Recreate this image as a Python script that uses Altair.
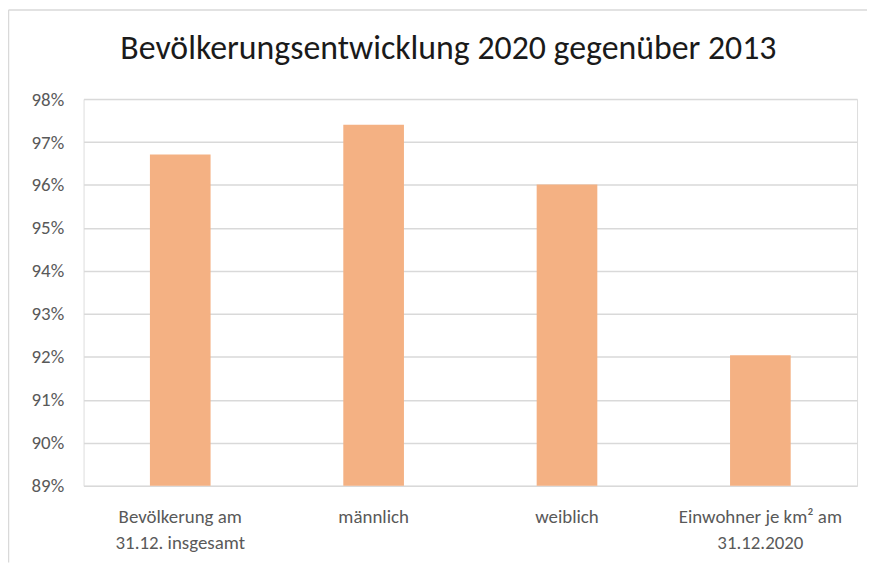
import altair as alt
import pandas as pd

TITLE = "Bevölkerungsentwicklung  2020 gegenüber 2013"
categories = [
    "Bevölkerung am\n31.12. insgesamt",
    "männlich",
    "weiblich",
    "Einwohner je km² am\n31.12.2020",
]
values = [0.9671, 0.9740, 0.9601, 0.9204]
y_ticks = [0.89, 0.90, 0.91, 0.92, 0.93, 0.94, 0.95, 0.96, 0.97, 0.98]
Y_MIN, Y_MAX = 0.89, 0.98

FONT = "Carlito, Liberation Sans, Arial, sans-serif"
BAR_COLOR = "#F4B183"
GRID = "#D9D9D9"
LABEL = "#595959"

W, H = 778, 389
PAD = {"left": 76, "top": 90, "right": 10, "bottom": 77}

df = pd.DataFrame({"cat": categories, "val": values})

bars = alt.Chart(df).mark_bar(size=61, color=BAR_COLOR).encode(
    x=alt.X(
        "cat:N",
        sort=categories,
        title=None,
        axis=alt.Axis(
            labelAngle=0,
            labelExpr="split(datum.label, '\\n')",
            labelLineHeight=26,
            labelFontSize=19,
            labelFont=FONT,
            labelColor=LABEL,
            labelPadding=22,
            ticks=False,
            domain=False,
            grid=False,
            labelLimit=300,
        ),
    ),
    y=alt.Y(
        "val:Q",
        title=None,
        scale=alt.Scale(domain=[Y_MIN, Y_MAX], zero=False, nice=False),
        axis=alt.Axis(
            values=y_ticks,
            format=".0%",
            labelFontSize=19,
            labelFont=FONT,
            labelColor=LABEL,
            labelPadding=20,
            ticks=False,
            domain=False,
            grid=True,
            gridColor=GRID,
            gridWidth=1.5,
        ),
    ),
    y2=alt.datum(Y_MIN),
)

one = alt.Data(values=[{"k": 1}])
top_border = alt.Chart(one).mark_rule(color=GRID, strokeWidth=1.5).encode(
    x=alt.value(-75.5), x2=alt.value(W + PAD["right"]), y=alt.value(-89.5)
)
left_border = alt.Chart(one).mark_rule(color=GRID, strokeWidth=1.5).encode(
    x=alt.value(-75.5), y=alt.value(-89.5), y2=alt.value(H + PAD["bottom"])
)

chart = (
    alt.layer(top_border, left_border, bars)
    .properties(
        width=W,
        height=H,
        padding=PAD,
        autosize=alt.AutoSizeParams(type="none"),
        title=alt.TitleParams(
            TITLE, fontSize=34, font=FONT, color="#1a1a1a", fontWeight="normal",
            anchor="middle", offset=0, dy=57, dx=-22,
        ),
    )
    .configure_view(stroke=None)
    .configure(background="white")
)

chart.save("out.html", embed_options={"renderer": "svg", "actions": False})
